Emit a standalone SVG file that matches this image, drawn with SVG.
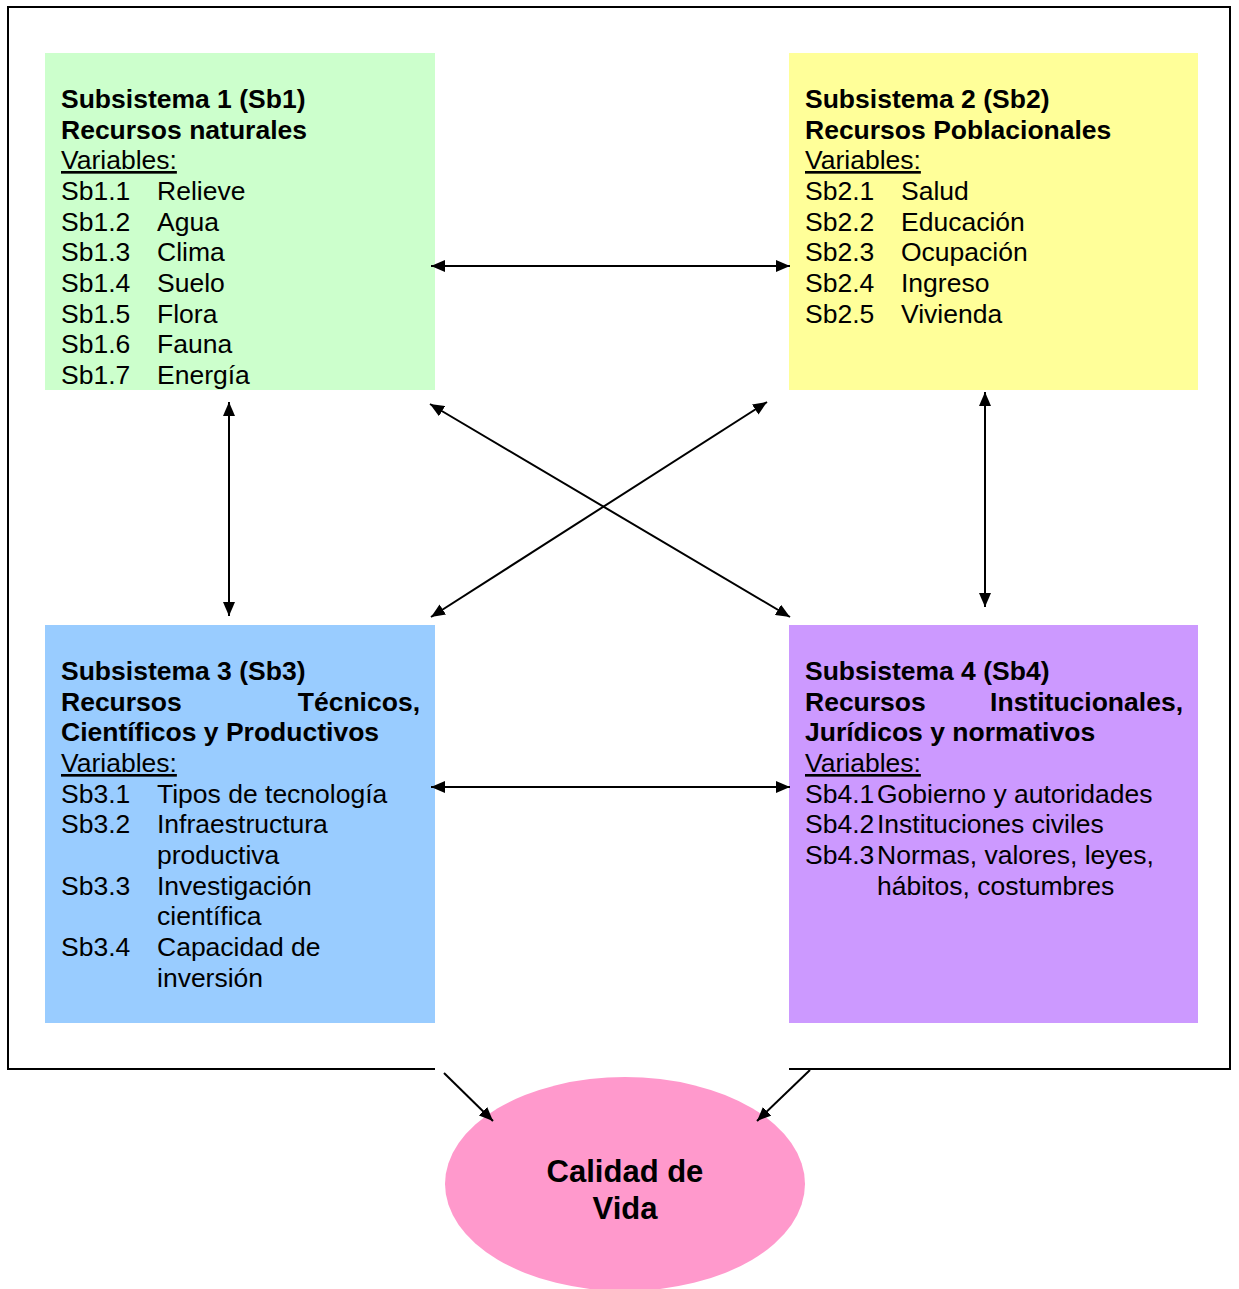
<svg xmlns="http://www.w3.org/2000/svg" width="1239" height="1289" viewBox="0 0 1239 1289">
<style>
text{font-family:"Liberation Sans",Arial,sans-serif;font-size:26.5px;fill:#000}
.b{font-weight:bold}
.u{text-decoration:underline}
.c{stroke:#000;stroke-width:2;fill:none}
.t{font-size:31px;font-weight:bold;text-anchor:middle}
</style>
<defs>
<marker id="ah" viewBox="0 0 10 10" refX="10" refY="5" markerWidth="7" markerHeight="6" orient="auto-start-reverse" markerUnits="strokeWidth" preserveAspectRatio="none">
<path d="M0,0 L10,5 L0,10 z" fill="#000"/>
</marker>
</defs>
<rect width="1239" height="1289" fill="#fff"/>
<path id="frame" d="M435,1069 H8 V7 H1230 V1069 H789" class="c"/>
<g id="sb1">
<rect x="45" y="53" width="390" height="337" fill="#CCFFCC"/>
<text class="b" x="61" y="108">Subsistema 1 (Sb1)</text>
<text class="b" x="61" y="139">Recursos naturales</text>
<text class="u" x="61" y="169">Variables:</text>
<text x="61" y="200">Sb1.1</text><text x="157" y="200">Relieve</text>
<text x="61" y="231">Sb1.2</text><text x="157" y="231">Agua</text>
<text x="61" y="261">Sb1.3</text><text x="157" y="261">Clima</text>
<text x="61" y="292">Sb1.4</text><text x="157" y="292">Suelo</text>
<text x="61" y="323">Sb1.5</text><text x="157" y="323">Flora</text>
<text x="61" y="353">Sb1.6</text><text x="157" y="353">Fauna</text>
<text x="61" y="384">Sb1.7</text><text x="157" y="384">Energía</text>
</g>
<g id="sb2">
<rect x="789" y="53" width="409" height="337" fill="#FFFF99"/>
<text class="b" x="805" y="108">Subsistema 2 (Sb2)</text>
<text class="b" x="805" y="139">Recursos Poblacionales</text>
<text class="u" x="805" y="169">Variables:</text>
<text x="805" y="200">Sb2.1</text><text x="901" y="200">Salud</text>
<text x="805" y="231">Sb2.2</text><text x="901" y="231">Educación</text>
<text x="805" y="261">Sb2.3</text><text x="901" y="261">Ocupación</text>
<text x="805" y="292">Sb2.4</text><text x="901" y="292">Ingreso</text>
<text x="805" y="323">Sb2.5</text><text x="901" y="323">Vivienda</text>
</g>
<g id="sb3">
<rect x="45" y="625" width="390" height="398" fill="#99CCFF"/>
<text class="b" x="61" y="680">Subsistema 3 (Sb3)</text>
<text class="b" x="61" y="711">Recursos</text><text class="b" x="420" y="711" text-anchor="end">Técnicos,</text>
<text class="b" x="61" y="741">Científicos y Productivos</text>
<text class="u" x="61" y="772">Variables:</text>
<text x="61" y="803">Sb3.1</text><text x="157" y="803">Tipos de tecnología</text>
<text x="61" y="833">Sb3.2</text><text x="157" y="833">Infraestructura</text>
<text x="157" y="864">productiva</text>
<text x="61" y="895">Sb3.3</text><text x="157" y="895">Investigación</text>
<text x="157" y="925">científica</text>
<text x="61" y="956">Sb3.4</text><text x="157" y="956">Capacidad de</text>
<text x="157" y="987">inversión</text>
</g>
<g id="sb4">
<rect x="789" y="625" width="409" height="398" fill="#CC99FF"/>
<text class="b" x="805" y="680">Subsistema 4 (Sb4)</text>
<text class="b" x="805" y="711">Recursos</text><text class="b" x="1183" y="711" text-anchor="end">Institucionales,</text>
<text class="b" x="805" y="741">Jurídicos y normativos</text>
<text class="u" x="805" y="772">Variables:</text>
<text x="805" y="803">Sb4.1</text><text x="877" y="803">Gobierno y autoridades</text>
<text x="805" y="833">Sb4.2</text><text x="877" y="833">Instituciones civiles</text>
<text x="805" y="864">Sb4.3</text><text x="877" y="864">Normas, valores, leyes,</text>
<text x="877" y="895">hábitos, costumbres</text>
</g>
<g id="calidad">
<ellipse cx="625" cy="1184" rx="180" ry="107" fill="#FF99CC"/>
<text class="t" x="625" y="1182">Calidad de</text>
<text class="t" x="625" y="1219">Vida</text>
</g>
<g id="connectors" class="c">
<line x1="431" y1="266" x2="790" y2="266" marker-start="url(#ah)" marker-end="url(#ah)"/>
<line x1="229" y1="402" x2="229" y2="616" marker-start="url(#ah)" marker-end="url(#ah)"/>
<line x1="985" y1="392" x2="985" y2="607" marker-start="url(#ah)" marker-end="url(#ah)"/>
<line x1="430" y1="404" x2="790" y2="617" marker-start="url(#ah)" marker-end="url(#ah)"/>
<line x1="767" y1="402" x2="431" y2="617" marker-start="url(#ah)" marker-end="url(#ah)"/>
<line x1="431" y1="787" x2="790" y2="787" marker-start="url(#ah)" marker-end="url(#ah)"/>
<line x1="444" y1="1073" x2="493" y2="1121" marker-end="url(#ah)"/>
<line x1="810" y1="1070" x2="757" y2="1121" marker-end="url(#ah)"/>
</g>
</svg>
